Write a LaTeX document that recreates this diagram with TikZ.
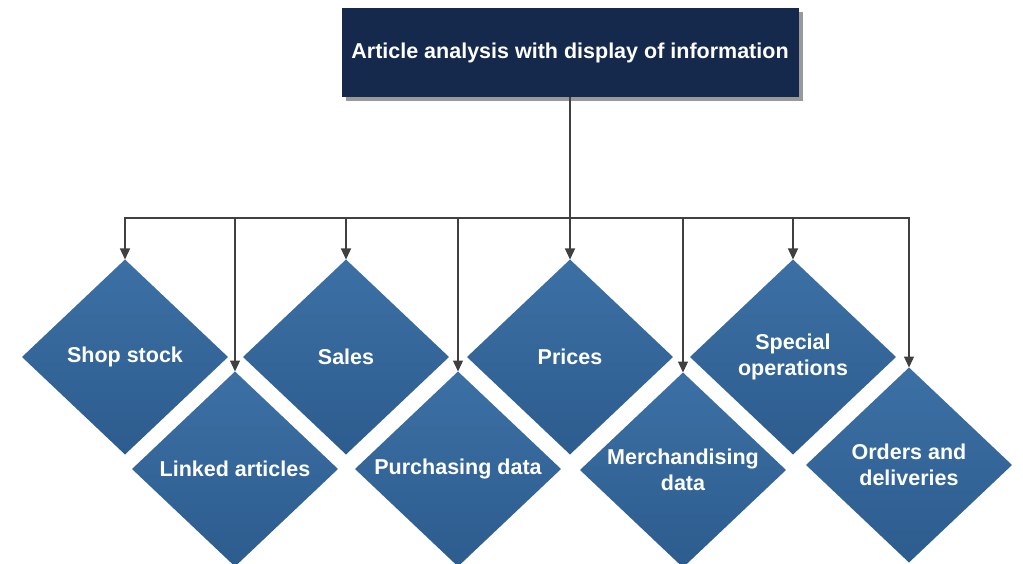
\documentclass[tikz,border=0pt]{standalone}
\usepackage{fontspec}
\setmainfont{Liberation Sans}
\usepackage{xcolor}
\usetikzlibrary{shapes.geometric,arrows.meta,shadows}
\definecolor{navy}{RGB}{20,41,76}
\definecolor{tilelight}{RGB}{60,112,164}
\definecolor{tiledark}{RGB}{45,92,142}
\definecolor{linegray}{RGB}{64,64,64}

\begin{document}
\begin{tikzpicture}[x=1pt,y=-1pt,
	tile/.style={shape=diamond,minimum width=206pt,minimum height=195pt,inner sep=0pt,outer sep=0pt,top color=tilelight,bottom color=tiledark,text=white,align=center,font=\fontsize{21.5}{26.5}\selectfont\bfseries},
	headbox/.style={rectangle,minimum width=457pt,minimum height=89pt,inner sep=0pt,outer sep=0pt,fill=navy,text=white,font=\fontsize{21.5}{26.5}\selectfont\bfseries,drop shadow={shadow xshift=4pt,shadow yshift=-4pt,fill=gray!80,opacity=1}},
	feed/.style={draw=linegray,line width=1.2pt,-{Triangle[width=10pt,length=11pt]}}]
		\useasboundingbox (0,0) rectangle (1023,564);
		
		\node[headbox] (head) at (570,52.5) {Article analysis with display of information};
		
		% upper row
		\node[tile] (shop) at (125,357) {Shop stock};
		\node[tile] (sales) at (346,357) {Sales};
		\node[tile] (prices) at (570,357) {Prices};
		\node[tile] (special) at (793,357) {Special\\operations};
		
		% lower row
		\node[tile] (linked) at (235,469) {Linked articles};
		\node[tile] (purchasing) at (458,469) {Purchasing data};
		\node[tile] (merch) at (683,470) {Merchandising\\data};
		\node[tile] (orders) at (909,465) {Orders and\\deliveries};
		
		\coordinate (bus) at (570,218);
		\foreach \n in {shop,linked,sales,purchasing,prices,merch,special,orders}
		{
		\draw[feed] (head.south) -- (head.south |- bus) -| (\n.north);
		}
	\end{tikzpicture}
\end{document}
